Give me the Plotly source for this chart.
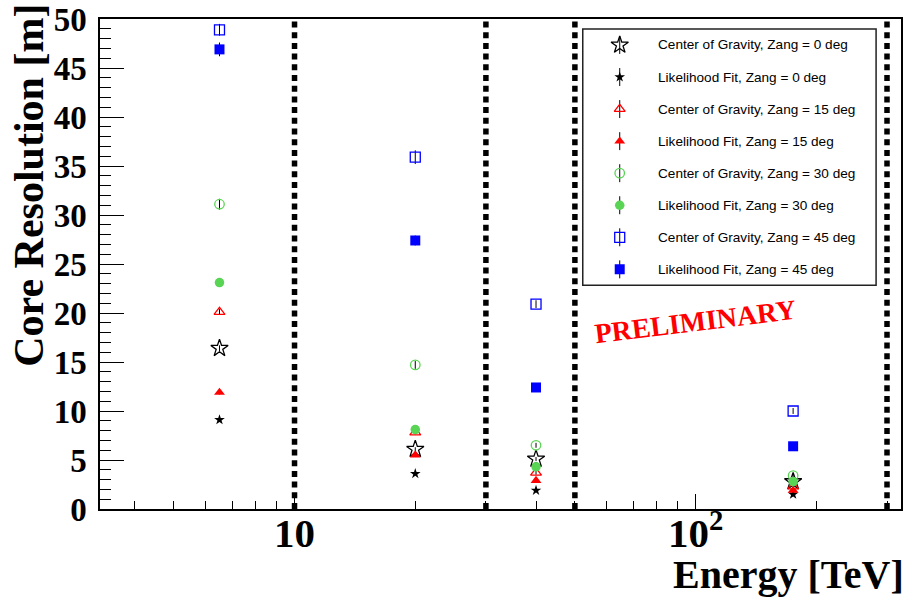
import plotly.graph_objects as go

# ---------------- data ----------------
energy = [6.5, 20, 40, 175]  # TeV

series_names = [
    "Center of Gravity, Zang = 0 deg",
    "Likelihood Fit, Zang = 0 deg",
    "Center of Gravity, Zang = 15 deg",
    "Likelihood Fit, Zang = 15 deg",
    "Center of Gravity, Zang = 30 deg",
    "Likelihood Fit, Zang = 30 deg",
    "Center of Gravity, Zang = 45 deg",
    "Likelihood Fit, Zang = 45 deg",
]

cog_0 = [16.4, 6.1, 5.1, 2.8]
lf_0 = [9.1, 3.6, 1.9, 1.5]
cog_15 = [20.1, 7.8, 3.7, 2.3]
lf_15 = [11.9, 5.5, 2.9, 1.9]
cog_30 = [31.1, 14.7, 6.5, 3.4]
lf_30 = [23.1, 8.1, 4.3, 2.8]
cog_45 = [48.9, 35.9, 20.9, 10.0]
lf_45 = [46.9, 27.4, 12.4, 6.4]

err_cog_0 = [0.3, 0.2, 0.2, 0.1]
err_lf_0 = [0.2, 0.1, 0.1, 0.1]
err_cog_15 = [0.3, 0.2, 0.2, 0.1]
err_lf_15 = [0.2, 0.2, 0.1, 0.1]
err_cog_30 = [0.55, 0.4, 0.25, 0.15]
err_lf_30 = [0.3, 0.2, 0.15, 0.1]
err_cog_45 = [0.6, 0.7, 0.4, 0.3]
err_lf_45 = [0.7, 0.5, 0.3, 0.2]

boundary_energies = [10, 30, 50, 300]

x_tick_vals = [10, 100]
x_tick_text = ["10", "10<sup>2</sup>"]
x_minor_vals = [4, 5, 6, 7, 8, 9, 20, 30, 40, 50, 60, 70, 80, 90, 200, 300]

# ---------------- styles ----------------
GREEN = "rgb(89,212,84)"
styles = [
    dict(symbol="star-open", size=13, color="black", line=dict(color="black", width=1.3)),
    dict(symbol="star", size=8, color="black", line=dict(width=0)),
    dict(symbol="triangle-up-open", size=9.5, color="red", line=dict(color="red", width=1.3)),
    dict(symbol="triangle-up", size=9.5, color="red", line=dict(width=0)),
    dict(symbol="circle-open", size=9.5, color=GREEN, line=dict(color=GREEN, width=1.3)),
    dict(symbol="circle", size=9.5, color=GREEN, line=dict(width=0)),
    dict(symbol="square-open", size=10, color="blue", line=dict(color="blue", width=1.3)),
    dict(symbol="square", size=10, color="blue", line=dict(width=0)),
]
values = [cog_0, lf_0, cog_15, lf_15, cog_30, lf_30, cog_45, lf_45]
errors = [err_cog_0, err_lf_0, err_cog_15, err_lf_15, err_cog_30, err_lf_30, err_cog_45, err_lf_45]

fig = go.Figure()

# vertical dotted boundary lines
for e in boundary_energies:
    fig.add_trace(go.Scatter(
        x=[e, e], y=[0, 50], mode="lines",
        line=dict(color="black", width=5.5, dash="6px,4.7px"),
        showlegend=False, hoverinfo="skip"))

for name, vals, errs, st in zip(series_names, values, errors, styles):
    fig.add_trace(go.Scatter(
        x=energy, y=vals, mode="markers", name=name,
        marker=st,
        error_y=dict(type="data", array=errs, color="black", thickness=1, width=0),
        showlegend=False))

# ---------- custom legend drawn on an overlay axis ----------
legend_rows = list(range(len(series_names)))
for row, st in zip(legend_rows, styles):
    fig.add_trace(go.Scatter(
        x=[0.126], y=[row], xaxis="x2", yaxis="y2", mode="markers",
        marker=st,
        error_y=dict(type="constant", value=0.28, color="black", thickness=1, width=0),
        showlegend=False, hoverinfo="skip"))
    fig.add_annotation(
        x=0.248, y=row, xref="x2", yref="y2", text=series_names[row],
        showarrow=False, xanchor="left", yanchor="middle",
        font=dict(family="Liberation Sans, Arial, sans-serif", size=13.6, color="black"))

fig.add_shape(type="rect", xref="x2 domain", yref="y2 domain", x0=0, x1=1, y0=0, y1=1,
              line=dict(color="#222", width=1.5), fillcolor="rgba(0,0,0,0)")

SERIF = "Liberation Serif, Times New Roman, serif"

fig.update_layout(
    width=905, height=601,
    margin=dict(l=100, r=2, t=16, b=92),
    paper_bgcolor="white", plot_bgcolor="white",
    showlegend=False,
    xaxis=dict(
        type="log", range=[0.515, 2.512],
        tickmode="array", tickvals=x_tick_vals, ticktext=x_tick_text,
        ticks="inside", ticklen=15, tickwidth=1.3, tickcolor="black",
        minor=dict(tickmode="array", tickvals=x_minor_vals, ticks="inside",
                   ticklen=8, tickwidth=1.3, tickcolor="black"),
        showgrid=False, zeroline=False,
        showline=True, linecolor="black", linewidth=1.5, mirror=True,
        tickfont=dict(family=SERIF, size=41, color="black", weight="bold"),
        ticklabelstandoff=-13,
    ),
    yaxis=dict(
        range=[0, 50.0001],
        tickmode="linear", tick0=0, dtick=5,
        ticks="inside", ticklen=24, tickwidth=1.3, tickcolor="black",
        minor=dict(dtick=1, ticks="inside", ticklen=11, tickwidth=1.3, tickcolor="black"),
        showgrid=False, zeroline=False,
        showline=True, linecolor="black", linewidth=1.5, mirror=True,
        tickfont=dict(family=SERIF, size=33, color="black", weight="bold"),
        ticklabelstandoff=5,
        ticklabeloverflow="allow",
    ),
    xaxis2=dict(domain=[0.6027, 0.9689], range=[0, 1], anchor="y2",
                visible=False, fixedrange=True),
    yaxis2=dict(domain=[0.4564, 0.9797], range=[7.5, -0.5], anchor="x2",
                visible=False, fixedrange=True),
)

# axis titles (ROOT style: aligned to the end of the axis)
fig.add_annotation(
    x=1, y=-0.134, xref="paper", yref="paper", xanchor="right", yanchor="middle",
    text="Energy [TeV]", showarrow=False, xshift=5,
    font=dict(family=SERIF, size=40, color="black", weight="bold"))
fig.add_annotation(
    x=-0.0897, y=0.66, xref="paper", yref="paper", xanchor="center", yanchor="middle",
    text="Core Resolution [m]", textangle=-90, showarrow=False,
    font=dict(family=SERIF, size=42, color="black", weight="bold"))

# PRELIMINARY stamp
fig.add_annotation(
    x=0.744, y=0.382, xref="paper", yref="paper", xanchor="center", yanchor="middle",
    text="PRELIMINARY", textangle=-7, showarrow=False,
    font=dict(family=SERIF, size=28, color="red", weight="bold"))

fig.write_html("out.html", config={"displayModeBar": False},
               post_script="document.body.style.margin='0';")
